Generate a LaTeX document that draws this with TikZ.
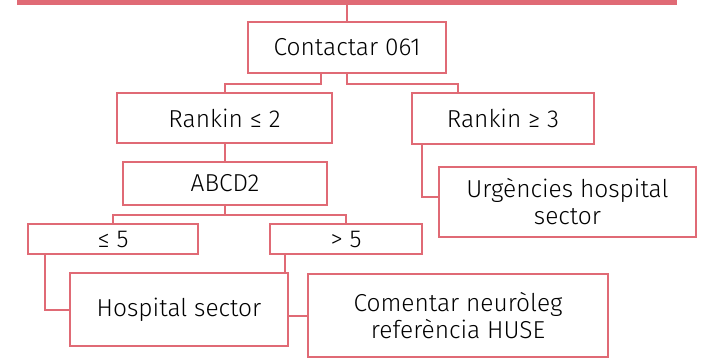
\documentclass[tikz,border=0pt]{standalone}
\usepackage{fontspec}
\setmainfont{Fira Sans}[UprightFont={* Light}]
\definecolor{lc}{HTML}{E06A75}
\begin{document}
\begin{tikzpicture}[x=1pt,y=-1pt,
  box/.style={draw=lc, line width=2pt, inner sep=0pt, align=center,
    font=\fontsize{24.5}{27}\selectfont, text=black},
  conn/.style={draw=lc, line width=2pt}]
\useasboundingbox (0,0) rectangle (704,359);
\node[fill=lc, inner sep=0pt, minimum width=660pt, minimum height=5pt] (bar) at (347,2.5) {};
\node[box, minimum width=198pt, minimum height=51pt] (c) at (347,47.5) {Contactar 061};
\node[box, minimum width=215pt, minimum height=50pt] (r2) at (224.5,118) {Rankin ≤ 2};
\node[box, minimum width=182pt, minimum height=51pt] (r3) at (503,118) {Rankin ≥ 3};
\node[box, minimum width=204pt, minimum height=43pt] (abcd) at (225,183.5) {ABCD2};
\node[box, minimum width=257pt, minimum height=70pt] (urg) at (567.5,202) {Urgències hospital\\sector};
\node[box, minimum width=170pt, minimum height=30pt] (le5) at (113,239) {≤ 5};
\node[box, minimum width=152pt, minimum height=30pt] (gt5) at (346,239) {> 5};
\node[box, minimum width=218pt, minimum height=73pt] (hosp) at (179,309.5) {Hospital sector};
\node[box, minimum width=300pt, minimum height=83pt] (com) at (458,315.5) {Comentar neuròleg\\referència HUSE};
% connectors
\draw[conn] (bar.south -| c.north) -- (c.north);
\draw[conn] ([xshift=-26pt]c.south) -- ++(0,10) -| (r2.north);
\draw[conn] (c.south) -- ++(0,10) -| ([xshift=-45pt]r3.north);
\draw[conn] (r2.south) -- (r2.south |- abcd.north);
\draw[conn] ([xshift=-81pt]r3.south) |- ([yshift=5pt]urg.west);
\draw[conn] (abcd.south) -- ++(0,9) coordinate (m);
\draw[conn] (le5.north) |- (m) -| (gt5.north);
\draw[conn] ([xshift=-68pt]le5.south) |- (hosp.west);
\draw[conn] ([xshift=-61pt]gt5.south) coordinate (g) -- (g |- hosp.north);
\draw[conn] ([yshift=-6.5pt]hosp.east) coordinate (h) -- (h -| com.west);
\end{tikzpicture}
\end{document}
